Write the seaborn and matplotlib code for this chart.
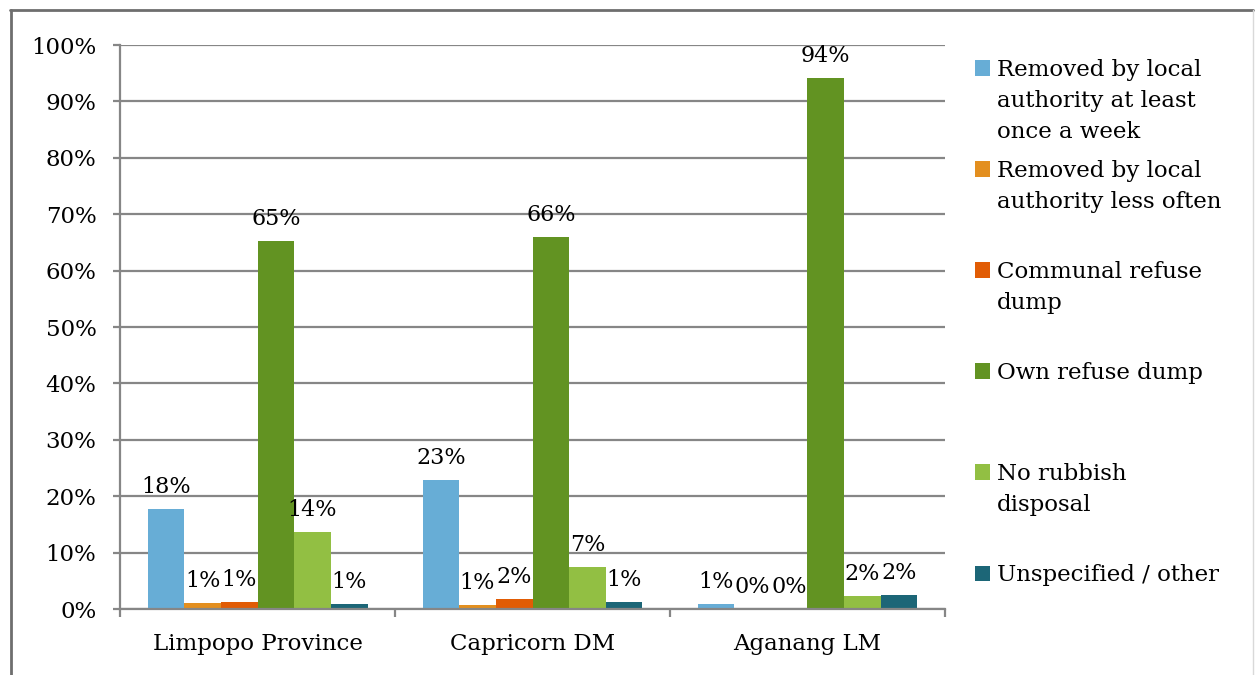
import pandas as pd
import seaborn as sns
import matplotlib.pyplot as plt
from matplotlib.lines import Line2D
from matplotlib.patches import Patch
from matplotlib.ticker import FuncFormatter, FixedLocator

# === data ===
areas = ["Limpopo Province", "Capricorn DM", "Aganang LM"]
categories = [
    "Removed by local authority at least once a week",
    "Removed by local authority less often",
    "Communal refuse dump",
    "Own refuse dump",
    "No rubbish disposal",
    "Unspecified / other",
]
legend_lines = [
    ["Removed by local", "authority at least", "once a week"],
    ["Removed by local", "authority less often"],
    ["Communal refuse", "dump"],
    ["Own refuse dump"],
    ["No rubbish", "disposal"],
    ["Unspecified / other"],
]
once_a_week = [17.7, 22.8, 0.8]
less_often = [1.1, 0.7, 0.0]
communal_dump = [1.2, 1.8, 0.0]
own_dump = [65.2, 65.9, 94.1]
no_disposal = [13.7, 7.4, 2.3]
other = [0.9, 1.2, 2.4]
colors = ["#67add6", "#e38f1f", "#e15c05", "#629322", "#92bf43", "#1c6677"]

series = [once_a_week, less_often, communal_dump, own_dump, no_disposal, other]
rows = []
for cat, vals in zip(categories, series):
    for area, v in zip(areas, vals):
        rows.append({"Area": area, "Category": cat, "Share": v})
df = pd.DataFrame(rows)

# === style ===
sns.set_style("white")
plt.rcParams["font.family"] = ["DejaVu Serif"]
plt.rcParams["text.color"] = "black"
plt.rcParams["xtick.labelcolor"] = "black"
plt.rcParams["ytick.labelcolor"] = "black"
FS = 16.5
GRID = "#868686"

W, H = 1255, 675
fig = plt.figure(figsize=(W / 100, H / 100), dpi=100)
ax = fig.add_axes([120 / W, 1 - 609 / H, 825 / W, 564 / H])

sns.barplot(data=df, x="Area", y="Share", hue="Category", order=areas,
            hue_order=categories, palette=colors, width=0.8, gap=0,
            saturation=1, linewidth=0, errorbar=None, legend=False, ax=ax)

for c in ax.containers:
    ax.bar_label(c, fmt="{:.0f}%", padding=8, fontsize=16, color="black")

# === axes ===
ax.set_ylim(0, 100)
ax.set_xlim(-0.5, 2.5)
ax.set_yticks(range(0, 101, 10))
ax.yaxis.set_major_formatter(FuncFormatter(lambda v, p: f"{v:.0f}%"))
ax.set_axisbelow(True)
ax.yaxis.grid(True, color=GRID, linewidth=1.6)
ax.xaxis.grid(False)
ax.set_xlabel("")
ax.set_ylabel("")
for s in ["top", "right"]:
    ax.spines[s].set_visible(False)
for s in ["left", "bottom"]:
    ax.spines[s].set_color(GRID)
    ax.spines[s].set_linewidth(1.6)
ax.tick_params(axis="y", left=True, length=5, width=1.6, color=GRID,
               pad=12, labelsize=16.5, labelcolor="black")
ax.tick_params(axis="x", which="major", length=0, pad=17, labelsize=FS,
               labelcolor="black")
ax.xaxis.set_minor_locator(FixedLocator([-0.5, 0.5, 1.5, 2.5]))
ax.tick_params(axis="x", which="minor", bottom=True, length=6, width=1.6,
               color=GRID)

# === legend ===
handles = [Patch(facecolor=c, edgecolor="none") for c in colors]
leg = fig.legend(handles, [l[0] for l in legend_lines], loc="upper left",
                 bbox_to_anchor=(975 / W, 1 - 59 / H), frameon=False,
                 fontsize=FS, handlelength=0.66, handleheight=0.66,
                 handletextpad=0.3, labelspacing=3.45, borderpad=0,
                 borderaxespad=0)
for t in leg.get_texts():
    t.set_color("black")

fig.canvas.draw()
renderer = fig.canvas.get_renderer()
for txt, lines in zip(leg.get_texts(), legend_lines):
    bb = txt.get_window_extent(renderer)
    for k, line in enumerate(lines[1:], 1):
        fig.text(bb.x0 / W, (bb.y1 - k * 31) / H, line, va="top",
                 ha="left", fontsize=FS, color="black")

# === outer frame ===
frame = "#6e6e6e"
fig.add_artist(Line2D([10 / W, 1253 / W], [1 - 10 / H] * 2,
                      transform=fig.transFigure, color=frame, linewidth=2))
fig.add_artist(Line2D([10.5 / W] * 2, [0, 1 - 10 / H],
                      transform=fig.transFigure, color=frame, linewidth=2))
fig.add_artist(Line2D([1253 / W] * 2, [0, 1 - 10 / H],
                      transform=fig.transFigure, color="#d9d9d9", linewidth=1))

fig.savefig("out.png", dpi=100)
